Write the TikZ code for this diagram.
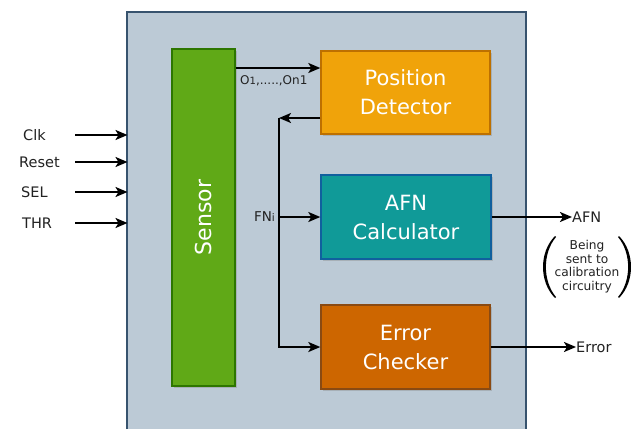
\documentclass[tikz,border=0pt]{standalone}
\usepackage{fontspec}
\setmainfont{DejaVu Sans}
\usetikzlibrary{arrows.meta,shadows}
\definecolor{bgblue}{HTML}{BCCAD6}
\definecolor{bgline}{HTML}{37536E}
\definecolor{sensfill}{HTML}{60A917}
\definecolor{sensline}{HTML}{2D7600}
\definecolor{pdfill}{HTML}{F0A30A}
\definecolor{pdline}{HTML}{BD7000}
\definecolor{afnfill}{HTML}{109A98}
\definecolor{afnline}{HTML}{10609E}
\definecolor{ecfill}{HTML}{CD6600}
\definecolor{ecline}{HTML}{8A4A12}
\definecolor{txt}{HTML}{222222}
\tikzset{
  blockbox/.style={draw, line width=1.4pt, inner sep=0pt, text=white,
    align=center, font=\fontsize{21}{29}\selectfont,
    drop shadow={shadow xshift=1.5pt, shadow yshift=-1.5pt, opacity=0.35}},
  arr/.style={line width=2pt, draw=black, -{Stealth[length=12pt,width=10pt,inset=3pt]}},
  lbl/.style={text=txt, inner sep=0pt, font=\fontsize{14.5}{17}\selectfont},
  small/.style={text=txt, inner sep=0pt, align=center, font=\fontsize{12.2}{15.5}\selectfont}
}
\begin{document}
\begin{tikzpicture}[x=1pt,y=-1pt]
\useasboundingbox (0,0) rectangle (631,429);
\fill[white] (0,0) rectangle (631,429);
% outer block
\fill[bgblue] (127,12) rectangle (526,429);
\draw[bgline, line width=2pt] (127,429) -- (127,12) -- (526,12) -- (526,429);

% blocks
\node[blockbox, fill=sensfill, draw=sensline, minimum width=63pt, minimum height=337pt]
  (sensor) at (203.5,217.5) {};
\node[text=white, rotate=90, font=\fontsize{22}{26}\selectfont] (sensortxt) at (sensor.center) {Sensor};
\node[blockbox, fill=pdfill, draw=pdline, minimum width=169pt, minimum height=83pt]
  (pd) at (405.5,92.5) {Position\\Detector};
\node[blockbox, fill=afnfill, draw=afnline, minimum width=170pt, minimum height=84pt]
  (afn) at (406,217) {AFN\\Calculator};
\node[blockbox, fill=ecfill, draw=ecline, minimum width=169pt, minimum height=84pt]
  (ec) at (405.5,347) {Error\\Checker};

% inputs
\node[lbl, anchor=west] (clk) at (23,135) {Clk};
\node[lbl, anchor=west] (reset) at (19,162) {Reset};
\node[lbl, anchor=west] (sel) at (21,192) {SEL};
\node[lbl, anchor=west] (thr) at (22,223) {THR};
\coordinate (inx) at (75,0);
\coordinate (bx) at (127.5,0);
\draw[arr] (inx |- clk) -- (bx |- clk);
\draw[arr] (inx |- reset) -- (bx |- reset);
\draw[arr] (inx |- sel) -- (bx |- sel);
\draw[arr] (inx |- thr) -- (bx |- thr);

% sensor to position detector
\coordinate (oy) at (0,68);
\draw[arr] (sensor.east |- oy) -- (pd.west |- oy);
\node[text=txt, inner sep=0pt, font=\fontsize{12}{14}\selectfont, anchor=west] (olbl) at (240,81)
  {O{\fontsize{10}{12}\selectfont 1},.....,On1};

% feedback bus
\coordinate (bus) at (279,118);
\draw[arr] (pd.west |- bus) -- (bus);
\draw[arr] (bus) |- (ec.west);
\draw[arr] (bus |- afn.west) -- (afn.west);
\node[lbl, anchor=east, font=\fontsize{13.5}{15}\selectfont] (fni) at ([xshift=-4pt]bus |- afn.west)
  {FN{\fontsize{10.5}{12}\selectfont i}};

% outputs
\node[lbl, anchor=west] (afnout) at (572,217) {AFN};
\draw[arr] (afn.east) -- (afnout.west);
\node[small] (note) at (587,266.5) {Being\\[-2pt]sent to\\[-2pt]calibration\\[-2pt]circuitry};
% parentheses
\fill[black] (555,236) .. controls (539,252) and (539,282) .. (555,298)
  -- (556,297) .. controls (542.5,281) and (542.5,253) .. (556,237) -- cycle;
\fill[black] (619,236) .. controls (635,252) and (635,282) .. (619,298)
  -- (618,297) .. controls (631.5,281) and (631.5,253) .. (618,237) -- cycle;
\node[lbl, anchor=west] (errout) at (576,347) {Error};
\draw[arr] (ec.east) -- (errout.west);
\end{tikzpicture}
\end{document}
